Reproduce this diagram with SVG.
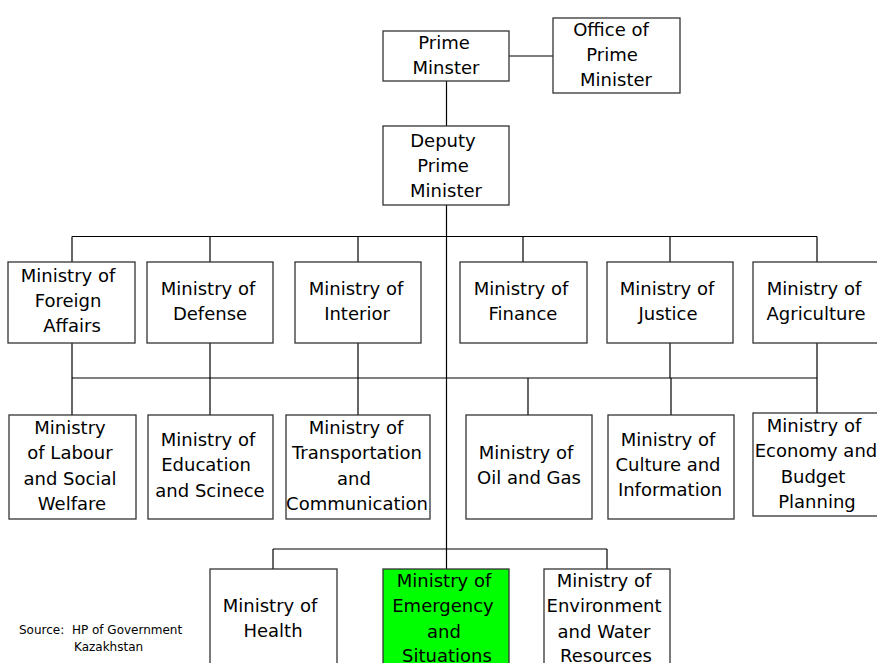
<svg xmlns="http://www.w3.org/2000/svg" width="877" height="663" viewBox="0 0 877 663">
  <style>
    .box { fill: #ffffff; stroke: #333333; stroke-width: 1.3; }
    .hl { fill: #00ff00; }
    .lbl { font-family: "DejaVu Sans", "Liberation Sans", sans-serif; font-size: 18px; fill: #000000; text-anchor: middle; }
    .src { font-family: "DejaVu Sans", "Liberation Sans", sans-serif; font-size: 12px; fill: #000000; white-space: pre; }
    .wire { fill: none; stroke: #000000; stroke-width: 1.2; }
  </style>
  <rect width="877" height="663" fill="#ffffff"/>

  <!-- connectors -->
  <g id="connectors" class="wire">
    <line x1="509" y1="56" x2="553" y2="56"/>
    <line x1="446.5" y1="81" x2="446.5" y2="126"/>
    <line x1="446.5" y1="205" x2="446.5" y2="569"/>
    <!-- first-tier bus -->
    <line x1="72" y1="236.5" x2="817" y2="236.5"/>
    <line x1="72" y1="236.5" x2="72" y2="262"/>
    <line x1="210" y1="236.5" x2="210" y2="262"/>
    <line x1="358" y1="236.5" x2="358" y2="262"/>
    <line x1="523" y1="236.5" x2="523" y2="262"/>
    <line x1="670" y1="236.5" x2="670" y2="262"/>
    <line x1="817" y1="236.5" x2="817" y2="262"/>
    <!-- second-tier bus -->
    <line x1="72" y1="378" x2="817" y2="378"/>
    <line x1="72" y1="343" x2="72" y2="415"/>
    <line x1="210" y1="343" x2="210" y2="415"/>
    <line x1="358" y1="343" x2="358" y2="415"/>
    <line x1="528" y1="378" x2="528" y2="415"/>
    <line x1="670" y1="343" x2="670" y2="378"/>
    <line x1="671" y1="378" x2="671" y2="415"/>
    <line x1="817" y1="343" x2="817" y2="413"/>
    <!-- third-tier bus -->
    <line x1="273" y1="549" x2="607" y2="549"/>
    <line x1="273" y1="549" x2="273" y2="569"/>
    <line x1="607" y1="549" x2="607" y2="569"/>
  </g>

  <g id="prime-minister">
    <rect class="box" x="383" y="31" width="126" height="50"/>
    <text class="lbl" x="444" y="49">Prime</text>
    <text class="lbl" x="446" y="74">Minster</text>
  </g>
  <g id="office-pm">
    <rect class="box" x="553" y="18" width="127" height="75"/>
    <text class="lbl" x="611" y="36">Office of</text>
    <text class="lbl" x="612" y="61">Prime</text>
    <text class="lbl" x="616" y="86">Minister</text>
  </g>
  <g id="deputy-pm">
    <rect class="box" x="383" y="126" width="126" height="79"/>
    <text class="lbl" x="443" y="147">Deputy</text>
    <text class="lbl" x="443" y="172">Prime</text>
    <text class="lbl" x="446" y="197">Minister</text>
  </g>

  <!-- first tier -->
  <g id="foreign-affairs">
    <rect class="box" x="8" y="262" width="127" height="81"/>
    <text class="lbl" x="68" y="282">Ministry of</text>
    <text class="lbl" x="68" y="307">Foreign</text>
    <text class="lbl" x="72" y="332">Affairs</text>
  </g>
  <g id="defense">
    <rect class="box" x="147" y="262" width="126" height="81"/>
    <text class="lbl" x="208" y="295">Ministry of</text>
    <text class="lbl" x="210" y="320">Defense</text>
  </g>
  <g id="interior">
    <rect class="box" x="295" y="262" width="126" height="81"/>
    <text class="lbl" x="356" y="295">Ministry of</text>
    <text class="lbl" x="357" y="320">Interior</text>
  </g>
  <g id="finance">
    <rect class="box" x="460" y="262" width="127" height="81"/>
    <text class="lbl" x="521" y="295">Ministry of</text>
    <text class="lbl" x="523" y="320">Finance</text>
  </g>
  <g id="justice">
    <rect class="box" x="607" y="262" width="126" height="81"/>
    <text class="lbl" x="667" y="295">Ministry of</text>
    <text class="lbl" x="668" y="320">Justice</text>
  </g>
  <g id="agriculture">
    <rect class="box" x="753" y="262" width="127" height="81"/>
    <text class="lbl" x="814" y="295">Ministry of</text>
    <text class="lbl" x="816" y="320">Agriculture</text>
  </g>

  <!-- second tier -->
  <g id="labour">
    <rect class="box" x="9" y="415" width="127" height="104"/>
    <text class="lbl" x="70" y="434">Ministry</text>
    <text class="lbl" x="70" y="459">of Labour</text>
    <text class="lbl" x="70" y="485">and Social</text>
    <text class="lbl" x="72" y="510">Welfare</text>
  </g>
  <g id="education">
    <rect class="box" x="148" y="415" width="125" height="104"/>
    <text class="lbl" x="208" y="446">Ministry of</text>
    <text class="lbl" x="206" y="471">Education</text>
    <text class="lbl" x="210" y="497">and Scinece</text>
  </g>
  <g id="transportation">
    <rect class="box" x="286" y="415" width="144" height="104"/>
    <text class="lbl" x="356" y="434">Ministry of</text>
    <text class="lbl" x="357" y="459">Transportation</text>
    <text class="lbl" x="354" y="485">and</text>
    <text class="lbl" x="357" y="510">Communication</text>
  </g>
  <g id="oil-gas">
    <rect class="box" x="466" y="415" width="126" height="104"/>
    <text class="lbl" x="526" y="459">Ministry of</text>
    <text class="lbl" x="529" y="484">Oil and Gas</text>
  </g>
  <g id="culture">
    <rect class="box" x="608" y="415" width="126" height="104"/>
    <text class="lbl" x="668" y="446">Ministry of</text>
    <text class="lbl" x="668" y="471">Culture and</text>
    <text class="lbl" x="670" y="496">Information</text>
  </g>
  <g id="economy">
    <rect class="box" x="753" y="413" width="127" height="103"/>
    <text class="lbl" x="814" y="432">Ministry of</text>
    <text class="lbl" x="816" y="457">Economy and</text>
    <text class="lbl" x="813" y="483">Budget</text>
    <text class="lbl" x="817" y="508">Planning</text>
  </g>

  <!-- third tier -->
  <g id="health">
    <rect class="box" x="210" y="569" width="127" height="100"/>
    <text class="lbl" x="270" y="612">Ministry of</text>
    <text class="lbl" x="273" y="637">Health</text>
  </g>
  <g id="emergency">
    <rect class="box hl" x="383" y="569" width="126" height="100"/>
    <text class="lbl" x="444" y="587">Ministry of</text>
    <text class="lbl" x="443" y="612">Emergency</text>
    <text class="lbl" x="444" y="638">and</text>
    <text class="lbl" x="447" y="662">Situations</text>
  </g>
  <g id="environment">
    <rect class="box" x="544" y="569" width="126" height="100"/>
    <text class="lbl" x="604" y="587">Ministry of</text>
    <text class="lbl" x="604" y="612">Environment</text>
    <text class="lbl" x="604" y="638">and Water</text>
    <text class="lbl" x="606" y="662">Resources</text>
  </g>

  <g id="source-note">
    <text class="src" x="19" y="634" xml:space="preserve">Source:  HP of Government</text>
    <text class="src" x="74" y="651">Kazakhstan</text>
  </g>
</svg>
